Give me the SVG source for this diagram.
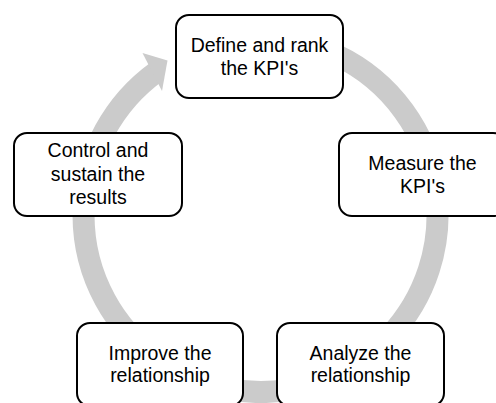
<svg xmlns="http://www.w3.org/2000/svg" width="496" height="403" viewBox="0 0 496 403">
  <style>
    .ring { fill: none; stroke: #cbcbcb; stroke-width: 22; }
    .head { fill: #cbcbcb; }
    .box { fill: #ffffff; stroke: #000000; stroke-width: 2; }
    .lbl { font-family: "Liberation Sans", Arial, sans-serif; font-size: 19.5px; fill: #000000; text-anchor: middle; }
  </style>
  <rect width="496" height="403" fill="#ffffff"/>
  <g id="connectors">
    <path class="ring" d="M 260.5 38 A 177 177 0 1 1 156.5 71.8"/>
    <polygon class="head" points="142.5,53 167.5,60.5 162,91"/>
  </g>
  <g id="node-define">
    <rect class="box" x="176" y="15" width="167" height="83" rx="13" ry="13"/>
    <text class="lbl" x="259.5" y="51.7">Define and rank</text>
    <text class="lbl" x="259.5" y="75">the KPI's</text>
  </g>
  <g id="node-measure">
    <rect class="box" x="339" y="133" width="167" height="83" rx="13" ry="13"/>
    <text class="lbl" x="422.5" y="169.8">Measure the</text>
    <text class="lbl" x="422.5" y="192.5">KPI's</text>
  </g>
  <g id="node-analyze">
    <rect class="box" x="277" y="323" width="167" height="83" rx="13" ry="13"/>
    <text class="lbl" x="360.5" y="359.5">Analyze the</text>
    <text class="lbl" x="360.5" y="382.3">relationship</text>
  </g>
  <g id="node-improve">
    <rect class="box" x="77" y="323" width="166" height="83" rx="13" ry="13"/>
    <text class="lbl" x="160" y="359.5">Improve the</text>
    <text class="lbl" x="160" y="382.3">relationship</text>
  </g>
  <g id="node-control">
    <rect class="box" x="14" y="133" width="168" height="83" rx="13" ry="13"/>
    <text class="lbl" x="98" y="156.5">Control and</text>
    <text class="lbl" x="98" y="180.5">sustain the</text>
    <text class="lbl" x="98" y="204">results</text>
  </g>
</svg>
